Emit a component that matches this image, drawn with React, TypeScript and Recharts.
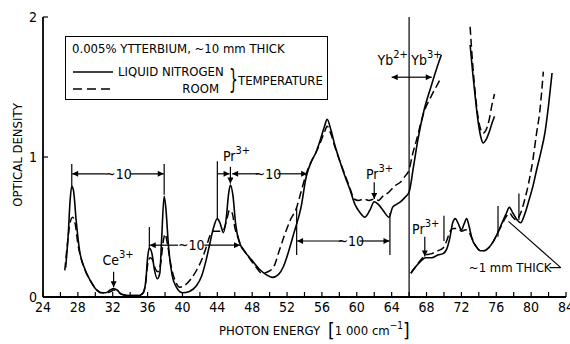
import React from 'react';
import { LineChart, Line, XAxis, YAxis, ReferenceLine, ReferenceDot, Legend } from 'recharts';

const FONT = "'Liberation Sans Narrow', 'DejaVu Sans Condensed', 'Liberation Sans', sans-serif";

// photon energy (1000 cm-1), optical density
// ~10 mm sample, liquid nitrogen temperature (solid)
const thickCold: [number, number][] = [
  [26.6, 0.21], [26.9, 0.45], [27.1, 0.68], [27.3, 0.79], [27.5, 0.76], [27.8, 0.55], [28.2, 0.33], [28.8, 0.2],
  [29.4, 0.12], [30.0, 0.06], [30.6, 0.03], [31.2, 0.03], [31.7, 0.05], [32.1, 0.06], [32.5, 0.05], [33.0, 0.02],
  [34.0, 0.01], [35.0, 0.01], [35.5, 0.03], [35.8, 0.12], [36.0, 0.28], [36.2, 0.35], [36.5, 0.31], [36.8, 0.19],
  [37.1, 0.13], [37.4, 0.17], [37.6, 0.4], [37.9, 0.72], [38.1, 0.63], [38.4, 0.36], [38.8, 0.16], [39.3, 0.07],
  [40.0, 0.03], [40.8, 0.04], [41.6, 0.08], [42.2, 0.15], [42.7, 0.26], [43.1, 0.37], [43.5, 0.48], [44.0, 0.56],
  [44.3, 0.53], [44.7, 0.46], [45.0, 0.55], [45.3, 0.74], [45.5, 0.8], [45.8, 0.72], [46.1, 0.52], [46.6, 0.38],
  [47.2, 0.32], [48.0, 0.26], [48.8, 0.2], [49.6, 0.16], [50.3, 0.14], [51.0, 0.16], [51.6, 0.22], [52.2, 0.33],
  [52.8, 0.46], [53.6, 0.64], [54.2, 0.86], [54.8, 0.97], [55.3, 1.03], [55.8, 1.12], [56.3, 1.22], [56.6, 1.27],
  [57.0, 1.2], [57.5, 1.08], [58.0, 0.98], [58.6, 0.87], [59.2, 0.77], [59.8, 0.66], [60.4, 0.6], [60.9, 0.57],
  [61.5, 0.62], [62.0, 0.68], [62.5, 0.66], [63.0, 0.62], [63.7, 0.57], [64.1, 0.64], [64.5, 0.66], [65.0, 0.68],
  [65.5, 0.71], [66.0, 0.75], [66.5, 0.93], [67.0, 1.12], [67.7, 1.33], [68.5, 1.5], [69.1, 1.62], [69.7, 1.73],
];

// ~10 mm sample, room temperature (dashed)
const thickRoom: [number, number][] = [
  [26.5, 0.19], [26.8, 0.38], [27.1, 0.53], [27.4, 0.57], [27.7, 0.52], [28.0, 0.38], [28.4, 0.27], [28.9, 0.18],
  [29.5, 0.11], [30.2, 0.05], [30.8, 0.03], [31.3, 0.03], [31.8, 0.04], [32.1, 0.05], [32.5, 0.04], [33.0, 0.02],
  [34.0, 0.01], [35.0, 0.01], [35.5, 0.03], [35.8, 0.11], [36.0, 0.23], [36.3, 0.28], [36.6, 0.26], [36.9, 0.2],
  [37.2, 0.18], [37.5, 0.24], [37.8, 0.4], [38.0, 0.45], [38.3, 0.37], [38.7, 0.22], [39.2, 0.11], [39.7, 0.07],
  [40.4, 0.09], [41.1, 0.14], [41.7, 0.2], [42.3, 0.28], [42.8, 0.37], [43.1, 0.43], [43.6, 0.47], [44.1, 0.47],
  [44.6, 0.47], [45.0, 0.53], [45.4, 0.62], [45.7, 0.6], [46.0, 0.5], [46.5, 0.4], [47.2, 0.32], [48.0, 0.25],
  [48.6, 0.2], [49.1, 0.17], [49.8, 0.18], [50.5, 0.22], [51.1, 0.33], [51.7, 0.44], [52.3, 0.54], [53.1, 0.64],
  [53.6, 0.75], [54.2, 0.88], [54.8, 0.97], [55.3, 1.03], [55.8, 1.1], [56.3, 1.18], [56.6, 1.22], [57.0, 1.17],
  [57.5, 1.07], [58.0, 0.98], [58.6, 0.88], [59.2, 0.78], [59.7, 0.7], [60.2, 0.69], [60.8, 0.7], [61.4, 0.69],
  [62.0, 0.7], [62.5, 0.69], [63.0, 0.72], [63.5, 0.74], [64.0, 0.77], [64.5, 0.8], [65.0, 0.82], [65.5, 0.86],
  [66.0, 0.91], [66.4, 1.02], [66.8, 1.11], [67.7, 1.32], [68.5, 1.43], [69.1, 1.5], [69.7, 1.57],
];

// Yb3+ band edge, ~10 mm sample
const bandCold: [number, number][] = [
  [73.0, 1.8], [73.3, 1.6], [73.6, 1.42], [73.9, 1.26], [74.2, 1.15], [74.5, 1.1], [74.8, 1.12], [75.2, 1.18],
  [75.5, 1.24], [75.8, 1.29],
];
const bandRoom: [number, number][] = [
  [73.0, 1.93], [73.3, 1.66], [73.6, 1.45], [73.9, 1.29], [74.2, 1.2], [74.5, 1.17], [74.8, 1.19], [75.2, 1.27],
  [75.5, 1.37], [75.8, 1.45],
];

// ~1 mm sample
const thinCold: [number, number][] = [
  [66.2, 0.17], [66.8, 0.22], [67.4, 0.26], [67.9, 0.28], [68.6, 0.28], [69.3, 0.3], [69.9, 0.31], [70.3, 0.34],
  [70.7, 0.43], [71.0, 0.53], [71.3, 0.56], [71.6, 0.53], [72.0, 0.48], [72.3, 0.52], [72.6, 0.56], [72.9, 0.5],
  [73.2, 0.42], [73.7, 0.36], [74.2, 0.33], [74.6, 0.33], [75.1, 0.35], [75.6, 0.39], [76.1, 0.45], [76.6, 0.52],
  [77.1, 0.59], [77.5, 0.64], [77.9, 0.6], [78.4, 0.55], [78.8, 0.53], [79.2, 0.58], [79.7, 0.68], [80.2, 0.79],
  [80.6, 0.9], [81.1, 1.03], [81.6, 1.18], [82.0, 1.37], [82.4, 1.6],
];
const thinRoom: [number, number][] = [
  [66.2, 0.17], [66.8, 0.22], [67.4, 0.27], [67.9, 0.3], [68.6, 0.31], [69.3, 0.33], [69.9, 0.35], [70.3, 0.4],
  [70.7, 0.47], [71.1, 0.49], [71.6, 0.49], [72.0, 0.47], [72.5, 0.48], [72.9, 0.46], [73.2, 0.42], [73.7, 0.36],
  [74.2, 0.33], [74.6, 0.33], [75.1, 0.35], [75.6, 0.39], [76.1, 0.45], [76.6, 0.51], [77.1, 0.57], [77.5, 0.6],
  [77.9, 0.57], [78.3, 0.55], [78.8, 0.6], [79.2, 0.68], [79.7, 0.81], [80.2, 0.98], [80.6, 1.16], [81.0, 1.33],
  [81.4, 1.61],
];

const xTicks = [24, 26, 28, 30, 32, 34, 36, 38, 40, 42, 44, 46, 48, 50, 52, 54, 56, 58, 60, 62, 64, 66, 68, 70, 72, 74, 76, 78, 80, 82, 84];
const xLabels = [24, 28, 32, 36, 40, 44, 48, 52, 56, 60, 64, 68, 72, 76, 80, 84];
const yTicks = [0, 1, 2];

// annotation strokes: [x1, y1, x2, y2]
const guideLines: [number, number, number, number][] = [
  [27.3, 0.79, 27.3, 0.95], [37.9, 0.73, 37.9, 0.95], [36.2, 0.34, 36.2, 0.5], [44.0, 0.56, 44.0, 0.97],
  [53.1, 0.3, 53.1, 0.64], [63.8, 0.3, 63.8, 0.6], [70.0, 0.4, 70.0, 0.58], [76.2, 0.43, 76.2, 0.65],
  [78.6, 0.55, 78.6, 0.74], [66.0, 0, 66.0, 2], [82.1, 0.21, 83.4, 0.21], [83.4, 0.21, 77.4, 0.54],
];
// arrows, head at the second point
const arrows: [number, number, number, number][] = [
  [31.3, 0.88, 27.35, 0.88], [34.0, 0.88, 37.85, 0.88],
  [39.5, 0.37, 36.25, 0.37], [42.5, 0.37, 46.6, 0.37],
  [44.0, 0.88, 45.4, 0.88], [45.5, 0.93, 45.5, 0.81], [48.7, 0.88, 45.7, 0.88], [50.9, 0.88, 54.3, 0.88],
  [58.3, 0.4, 53.15, 0.4], [60.3, 0.4, 63.75, 0.4],
  [62.0, 0.82, 62.0, 0.7], [67.8, 0.43, 67.8, 0.29], [32.1, 0.18, 32.1, 0.07],
  [66.0, 1.57, 64.0, 1.57], [66.0, 1.57, 68.6, 1.57],
];
const tenLabels: [number, number][] = [[32.65, 0.88], [41.0, 0.37], [49.8, 0.88], [59.3, 0.4]];
const ionLabels: { x: number; y: number; main: string; sup: string; anchor: string }[] = [
  { x: 32.6, y: 0.23, main: 'Ce', sup: '3+', anchor: 'middle' },
  { x: 46.2, y: 0.97, main: 'Pr', sup: '3+', anchor: 'middle' },
  { x: 62.6, y: 0.84, main: 'Pr', sup: '3+', anchor: 'middle' },
  { x: 67.9, y: 0.45, main: 'Pr', sup: '3+', anchor: 'middle' },
  { x: 65.85, y: 1.66, main: 'Yb', sup: '2+', anchor: 'end' },
  { x: 66.25, y: 1.66, main: 'Yb', sup: '3+', anchor: 'start' },
];

const rows = (pts: [number, number][]) => pts.map(([e, od]) => ({ e, od }));

const Plain = (p: any) => <line x1={p.x1} y1={p.y1} x2={p.x2} y2={p.y2} stroke="#000" strokeWidth={1.2} />;
const Arrow = (p: any) => (
  <line x1={p.x1} y1={p.y1} x2={p.x2} y2={p.y2} stroke="#000" strokeWidth={1.2} markerEnd="url(#ah)" />
);

const LegendBox = () => (
  <div style={{ position: 'relative', width: 263, height: 64, border: '1.5px solid #000', boxSizing: 'border-box', background: '#fff', fontFamily: FONT, fontSize: 13, color: '#000', lineHeight: '14px' }}>
    <div style={{ position: 'absolute', left: 6, top: 5, whiteSpace: 'nowrap' }}>0.005% YTTERBIUM, ~10 mm THICK</div>
    <svg style={{ position: 'absolute', left: 0, top: 0 }} width={60} height={64}>
      <line x1={7} y1={35} x2={47} y2={35} stroke="#000" strokeWidth={1.5} />
      <line x1={7} y1={52} x2={47} y2={52} stroke="#000" strokeWidth={1.5} strokeDasharray="9 5" />
    </svg>
    <div style={{ position: 'absolute', left: 52, top: 28, whiteSpace: 'nowrap' }}>LIQUID NITROGEN</div>
    <div style={{ position: 'absolute', right: 108, top: 45, whiteSpace: 'nowrap' }}>ROOM</div>
    <div style={{ position: 'absolute', left: 160, top: 29, fontSize: 26, lineHeight: '26px', transform: 'scaleX(0.6)' }}>{'}'}</div>
    <div style={{ position: 'absolute', left: 172, top: 37, whiteSpace: 'nowrap' }}>TEMPERATURE</div>
  </div>
);

const XTitle = (props: any) => {
  const vb = props.viewBox;
  return (
    <text x={vb.x + 176} y={vb.y + 38} fontFamily={FONT} fontSize={13} fill="#000">
      PHOTON ENERGY
      <tspan dx={8} fontSize={19} dy={2}>[</tspan>
      <tspan fontSize={13} dy={-2}>1 000 cm</tspan>
      <tspan fontSize={10} dy={-6}>−1</tspan>
      <tspan fontSize={19} dy={8}>]</tspan>
    </text>
  );
};

const YTitle = (props: any) => {
  const vb = props.viewBox;
  const cx = vb.x + 17;
  const cy = vb.y + 138;
  return (
    <text x={cx} y={cy} transform={`rotate(-90 ${cx} ${cy})`} textAnchor="middle" dominantBaseline="central" fontFamily={FONT} fontSize={13} fill="#000">
      OPTICAL DENSITY
    </text>
  );
};

export default function App() {
  return (
    <div style={{ position: 'absolute', left: 0, top: 0, width: 570, height: 344, background: '#fff' }}>
      <svg width={0} height={0} style={{ position: 'absolute' }}>
        <defs>
          <marker id="ah" viewBox="0 0 10 10" refX={10} refY={5} markerWidth={8} markerHeight={6} markerUnits="userSpaceOnUse" orient="auto">
            <path d="M0,0 L10,5 L0,10 z" fill="#000" />
          </marker>
        </defs>
      </svg>
      <LineChart width={570} height={344} margin={{ top: 17, right: 4, bottom: 0, left: 0 }}>
        <XAxis
          type="number"
          dataKey="e"
          domain={[24, 84]}
          ticks={xTicks}
          interval={0}
          allowDataOverflow
          height={47}
          tickSize={-5}
          tickMargin={10}
          axisLine={{ stroke: '#000', strokeWidth: 1.8 }}
          tickLine={{ stroke: '#000', strokeWidth: 1.2 }}
          tick={{ fill: '#000', fontSize: 14, fontFamily: FONT }}
          tickFormatter={(v: number) => (xLabels.includes(v) ? String(v) : '')}
          label={XTitle}
        />
        <XAxis
          xAxisId="top"
          orientation="top"
          type="number"
          dataKey="e"
          domain={[24, 84]}
          ticks={xTicks}
          interval={0}
          allowDataOverflow
          height={0}
          tickSize={-5}
          tick={false}
          axisLine={{ stroke: '#000', strokeWidth: 1.8 }}
          tickLine={{ stroke: '#000', strokeWidth: 1.2 }}
        />
        <YAxis
          type="number"
          domain={[0, 2]}
          ticks={yTicks}
          interval={0}
          allowDataOverflow
          width={43}
          tickSize={-5}
          tickMargin={11}
          axisLine={{ stroke: '#000', strokeWidth: 1.8 }}
          tickLine={{ stroke: '#000', strokeWidth: 1.2 }}
          tick={{ fill: '#000', fontSize: 14, fontFamily: FONT }}
          label={YTitle}
        />
        <YAxis
          yAxisId="right"
          orientation="right"
          type="number"
          domain={[0, 2]}
          ticks={yTicks}
          interval={0}
          allowDataOverflow
          width={0}
          tickSize={-5}
          tick={false}
          axisLine={{ stroke: '#000', strokeWidth: 1.8 }}
          tickLine={{ stroke: '#000', strokeWidth: 1.2 }}
        />
        <Legend layout="vertical" align="center" verticalAlign="middle" wrapperStyle={{ left: 65, top: 36, width: 263, height: 64 }} content={() => <LegendBox />} />

        <Line data={rows(thickCold)} dataKey="od" name="LIQUID NITROGEN" type="monotone" stroke="#000" strokeWidth={1.6} dot={false} isAnimationActive={false} />
        <Line data={rows(thickRoom)} dataKey="od" name="ROOM" type="monotone" stroke="#000" strokeWidth={1.5} strokeDasharray="8 4" dot={false} isAnimationActive={false} />
        <Line data={rows(bandCold)} dataKey="od" legendType="none" type="monotone" stroke="#000" strokeWidth={1.6} dot={false} isAnimationActive={false} />
        <Line data={rows(bandRoom)} dataKey="od" legendType="none" type="monotone" stroke="#000" strokeWidth={1.5} strokeDasharray="8 4" dot={false} isAnimationActive={false} />
        <Line data={rows(thinCold)} dataKey="od" legendType="none" type="monotone" stroke="#000" strokeWidth={1.6} dot={false} isAnimationActive={false} />
        <Line data={rows(thinRoom)} dataKey="od" legendType="none" type="monotone" stroke="#000" strokeWidth={1.5} strokeDasharray="8 4" dot={false} isAnimationActive={false} />

        {guideLines.map(([x1, y1, x2, y2], i) => (
          <ReferenceLine key={`g${i}`} segment={[{ x: x1, y: y1 }, { x: x2, y: y2 }]} ifOverflow="visible" shape={Plain} />
        ))}
        {arrows.map(([x1, y1, x2, y2], i) => (
          <ReferenceLine key={`a${i}`} segment={[{ x: x1, y: y1 }, { x: x2, y: y2 }]} ifOverflow="visible" shape={Arrow} />
        ))}
        {tenLabels.map(([x, y], i) => (
          <ReferenceDot
            key={`t${i}`}
            x={x}
            y={y}
            r={0}
            ifOverflow="visible"
            shape={(p: any) => (
              <text x={p.cx} y={p.cy} textAnchor="middle" dominantBaseline="central" fontFamily={FONT} fontSize={14} fill="#000">~10</text>
            )}
          />
        ))}
        {ionLabels.map((l, i) => (
          <ReferenceDot
            key={`i${i}`}
            x={l.x}
            y={l.y}
            r={0}
            ifOverflow="visible"
            shape={(p: any) => (
              <text x={p.cx} y={p.cy} textAnchor={l.anchor} fontFamily={FONT} fontSize={14} fill="#000">
                {l.main}
                <tspan dy={-7} fontSize={11}>{l.sup}</tspan>
              </text>
            )}
          />
        ))}
        <ReferenceDot
          x={77.6}
          y={0.21}
          r={0}
          ifOverflow="visible"
          shape={(p: any) => (
            <text x={p.cx} y={p.cy} textAnchor="middle" dominantBaseline="central" fontFamily={FONT} fontSize={13} fill="#000">~1 mm THICK</text>
          )}
        />
      </LineChart>
    </div>
  );
}
